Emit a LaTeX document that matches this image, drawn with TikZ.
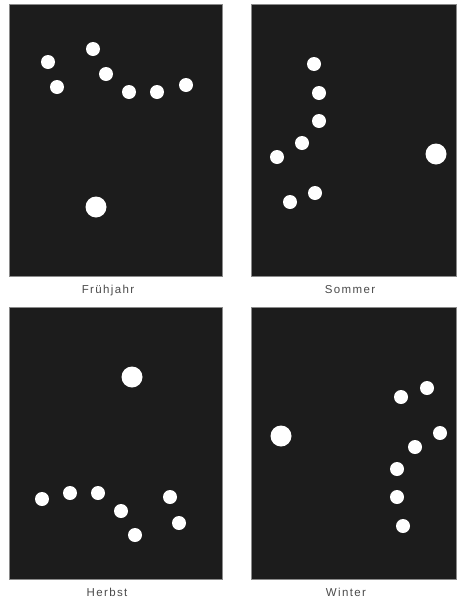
\documentclass[tikz,border=0pt]{standalone}
\usepackage{fontspec}
\setmainfont{Liberation Sans}
\definecolor{panelgray}{HTML}{1C1C1C}
\definecolor{edgegray}{HTML}{8A8A8A}
\definecolor{labelgray}{HTML}{4A4A4A}
\begin{document}
\begin{tikzpicture}
  [x=1pt, y=-1pt,
   panel/.style={fill=panelgray, draw=edgegray, line width=0.7pt},
   dot/.style={circle, fill=white, inner sep=0pt, minimum size=14pt},
   bigdot/.style={dot, minimum size=21pt},
   caption/.style={anchor=base, text=labelgray,
     font=\fontsize{11.5}{13}\selectfont\addfontfeature{LetterSpace=12}}]

  \useasboundingbox (0,0) rectangle (456,600);

  % Felder
  \fill[panel] (9,4) rectangle (222,276);
  \fill[panel] (251,4) rectangle (456,276);
  \fill[panel] (9,307) rectangle (222,579);
  \fill[panel] (251,307) rectangle (456,579);

  % Frühjahr
  \foreach \x/\y [count=\i] in {48/62, 57/87, 93/49, 106/74, 129/92, 157/92, 186/85}
    \node[dot] (f\i) at (\x,\y) {};
  \node[bigdot] (fsun) at (96,207) {};

  % Sommer
  \foreach \x/\y [count=\i] in {314/64, 319/93, 319/121, 302/143, 277/157, 315/193, 290/202}
    \node[dot] (s\i) at (\x,\y) {};
  \node[bigdot] (ssun) at (436,154) {};

  % Herbst
  \foreach \x/\y [count=\i] in {42/499, 70/493, 98/493, 121/511, 135/535, 170/497, 179/523}
    \node[dot] (h\i) at (\x,\y) {};
  \node[bigdot] (hsun) at (132,377) {};

  % Winter
  \foreach \x/\y [count=\i] in {401/397, 427/388, 440/433, 415/447, 397/469, 397/497, 403/526}
    \node[dot] (w\i) at (\x,\y) {};
  \node[bigdot] (wsun) at (281,436) {};

  % Beschriftungen
  \node[caption] (lf) at (108,293) {Frühjahr};
  \node[caption] (ls) at (350,293) {Sommer};
  \node[caption] (lh) at (107,596) {Herbst};
  \node[caption] (lw) at (346,596) {Winter};
\end{tikzpicture}
\end{document}
